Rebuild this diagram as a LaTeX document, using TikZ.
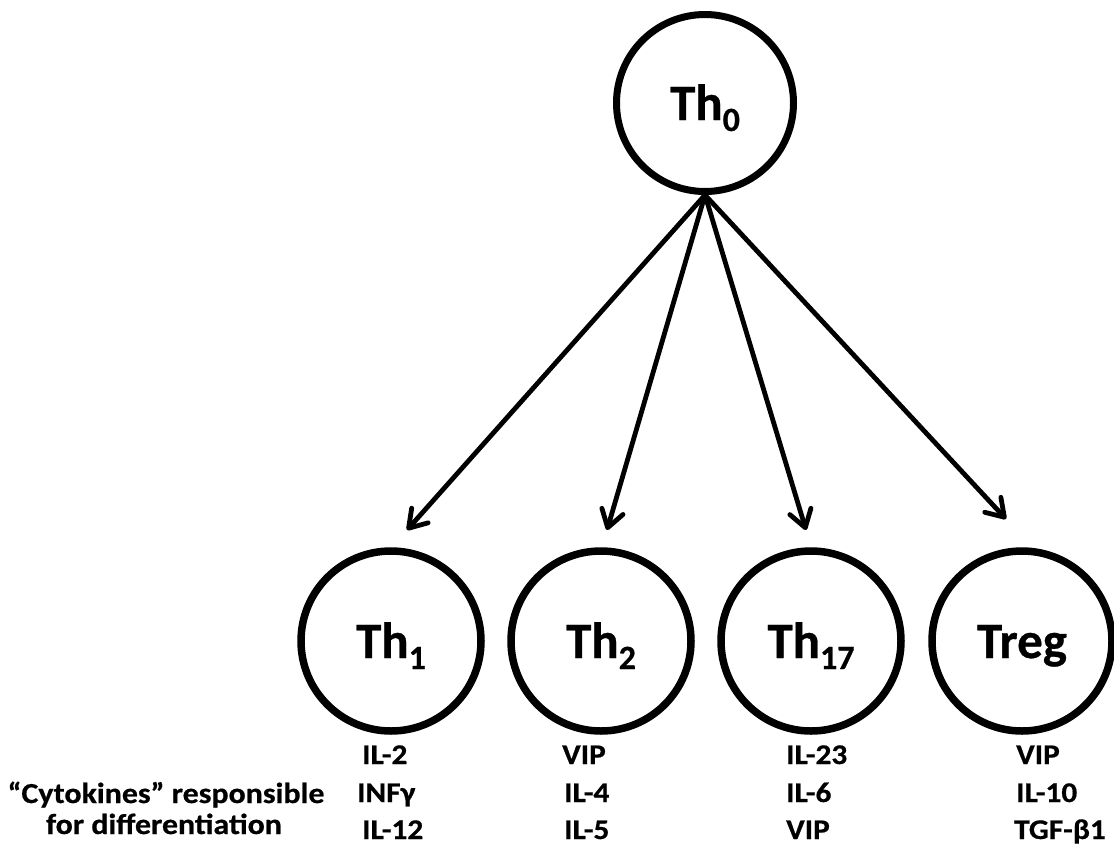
\documentclass[tikz,border=0pt]{standalone}
\usepackage{fontspec}
\setmainfont{Carlito}[BoldFeatures={FakeBold=0.6}]
% wider face for the cytokine lists and the row caption
\newfontfamily\cytofont{Carlito}[BoldFeatures={FakeBold=0.6, FakeStretch=1.1}]
\usetikzlibrary{arrows.meta}
% lowered, smaller index for the cell names
\newcommand{\cellsub}[1]{\raisebox{-11pt}{\fontsize{34}{34}\selectfont #1}}

\begin{document}
\begin{tikzpicture}[x=1pt,y=-1pt,
  cell/.style={circle, draw, line width=7.5pt, minimum size=180pt, inner sep=0pt,
    font=\fontsize{51}{51}\selectfont\bfseries, text height=34pt, text depth=0pt},
  rootcell/.style={cell, line width=7pt, minimum size=177pt},
  link/.style={line width=4.8pt, line cap=round,
    -{Straight Barb[length=17pt, width=22pt, line join=round, line cap=round]}},
  cyto/.style={font=\cytofont\fontsize{28.5}{28.5}\selectfont\bfseries, inner sep=0pt, anchor=base west},
  caption/.style={font=\cytofont\fontsize{29}{29}\selectfont\bfseries, inner sep=0pt, anchor=base}
]
\useasboundingbox (0,0) rectangle (1114,844);

% naive cell and the four differentiated subsets
\node[rootcell] (th0) at (705,103) {Th\cellsub{0}};
\node[cell] (th1)  at (391,641) {Th\cellsub{1}};
\node[cell] (th2)  at (601,641) {Th\cellsub{2}};
\node[cell] (th17) at (811,641) {Th\cellsub{17}};
\node[cell] (treg) at (1022,641) {Treg};

% arrow tip positions
\coordinate (t1) at (407,530);
\coordinate (t2) at (607,530);
\coordinate (t3) at (806,530);
\coordinate (t4) at (1006,519);

\draw[link] (th0.south) -- (t1);
\draw[link] (th0.south) -- (t2);
\draw[link] (th0.south) -- (t3);
\draw[link] (th0.south) -- (t4);

% cytokines under each subset
\node[cyto] (c1a) at (362,764) {IL-2};
\node[cyto] (c1b) at (357,802) {INFγ};
\node[cyto] (c1c) at (362,839) {IL-12};

\node[cyto] (c2a) at (562,764) {VIP};
\node[cyto] (c2b) at (564,802) {IL-4};
\node[cyto] (c2c) at (564,839) {IL-5};

\node[cyto] (c3a) at (786,764) {IL-23};
\node[cyto] (c3b) at (786,802) {IL-6};
\node[cyto] (c3c) at (786,839) {VIP};

\node[cyto] (c4a) at (1016,764) {VIP};
\node[cyto] (c4b) at (1016,802) {IL-10};
\node[cyto] (c4c) at (1014,839) {TGF-β1};

% row caption
\node[caption] (cap1) at (166,803) {“Cytokines” responsible};
\node[caption] (cap2) at (164,834) {for differentiation};
\end{tikzpicture}
\end{document}
